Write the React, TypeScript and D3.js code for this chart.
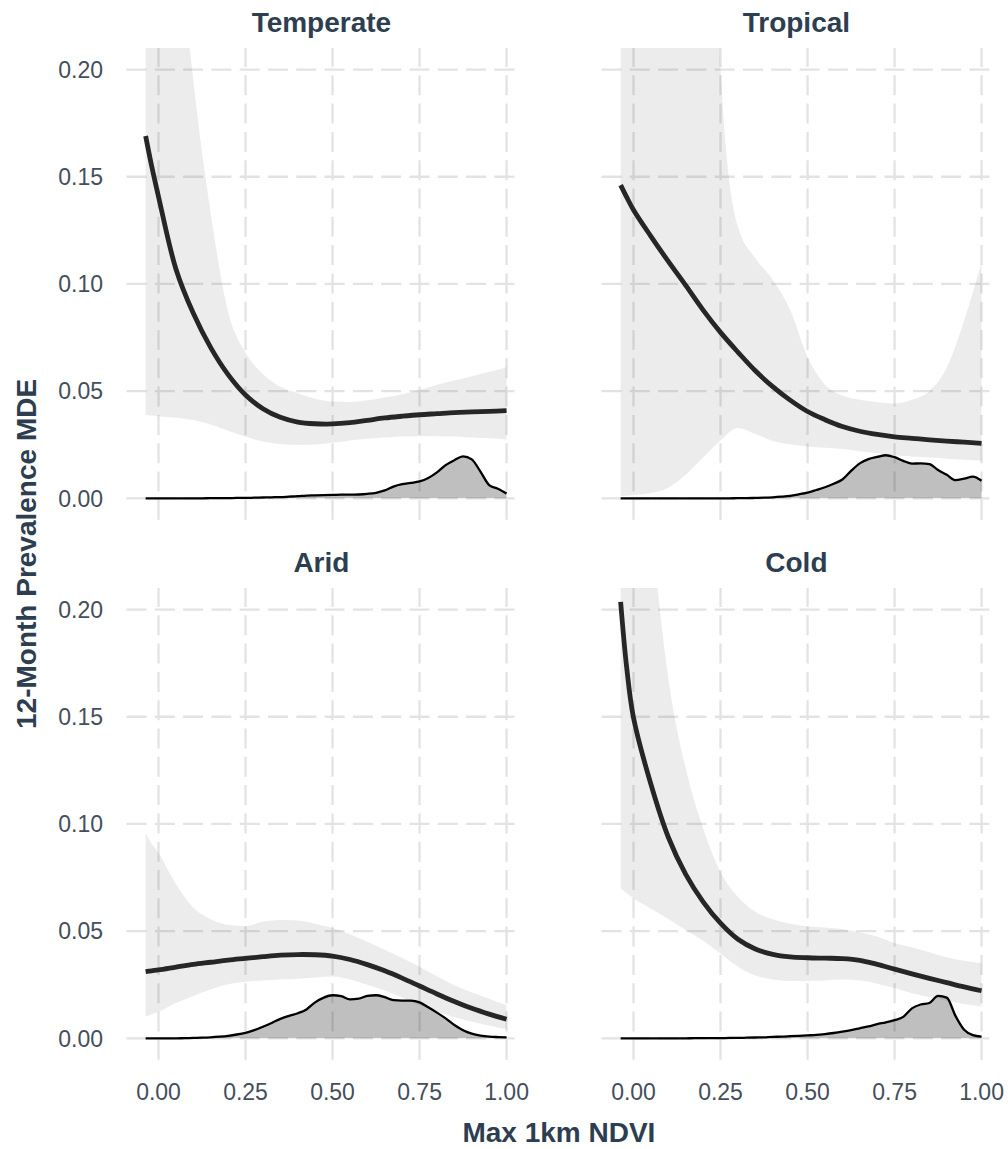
import React, { useEffect, useRef } from 'react';
import * as d3 from 'd3';

// x grid of the smoothed fits (Max 1km NDVI)
const fitX = [-0.037, -0.02, 0, 0.05, 0.1, 0.15, 0.2, 0.25, 0.3, 0.35, 0.4, 0.45, 0.5, 0.55, 0.6, 0.65, 0.7, 0.75, 0.8, 0.85, 0.9, 0.95, 1.0];

const temperateFit = [0.169, 0.1552, 0.1407, 0.107, 0.0863, 0.0703, 0.0577, 0.0482, 0.0418, 0.0378, 0.0356, 0.0348, 0.0347, 0.0353, 0.0364, 0.0375, 0.0383, 0.039, 0.0395, 0.04, 0.0403, 0.0406, 0.0409];
const temperateHi = [0.6, 0.5, 0.42, 0.28, 0.195, 0.133, 0.087, 0.068, 0.058, 0.052, 0.049, 0.0465, 0.0452, 0.045, 0.0458, 0.047, 0.0485, 0.0505, 0.053, 0.055, 0.057, 0.059, 0.0612];
const temperateLo = [0.0389, 0.0386, 0.0383, 0.0376, 0.0365, 0.0345, 0.0315, 0.0287, 0.0265, 0.0254, 0.0249, 0.0251, 0.0259, 0.027, 0.0278, 0.0284, 0.0288, 0.029, 0.029, 0.0288, 0.0284, 0.028, 0.0275];

const tropicalFit = [0.1461, 0.1406, 0.1345, 0.1222, 0.1105, 0.0993, 0.0878, 0.0774, 0.0682, 0.0595, 0.0521, 0.0458, 0.0405, 0.0367, 0.0335, 0.0313, 0.0298, 0.0287, 0.028, 0.0273, 0.0267, 0.0262, 0.0256];
const tropicalHi = [1.0, 1.0, 1.0, 0.9, 0.75, 0.6, 0.42, 0.2, 0.127, 0.112, 0.102, 0.088, 0.066, 0.053, 0.048, 0.046, 0.045, 0.0443, 0.046, 0.05, 0.061, 0.083, 0.11];
const tropicalLo = [0.001, 0.0012, 0.0015, 0.0025, 0.005, 0.011, 0.019, 0.027, 0.0328, 0.03, 0.0268, 0.0252, 0.0242, 0.0236, 0.023, 0.022, 0.021, 0.02, 0.0195, 0.019, 0.0185, 0.018, 0.0175];

const aridFit = [0.0311, 0.0315, 0.0319, 0.0332, 0.0345, 0.0355, 0.0365, 0.0373, 0.0381, 0.0388, 0.0391, 0.039, 0.0384, 0.0368, 0.0344, 0.0315, 0.0281, 0.0244, 0.0207, 0.0172, 0.014, 0.0113, 0.0089];
const aridHi = [0.0956, 0.091, 0.0863, 0.072, 0.061, 0.0555, 0.0529, 0.0524, 0.0545, 0.0552, 0.055, 0.0535, 0.0515, 0.0485, 0.045, 0.0413, 0.0375, 0.0334, 0.029, 0.0248, 0.0215, 0.0185, 0.0155];
const aridLo = [0.0101, 0.0112, 0.0124, 0.0165, 0.0198, 0.0228, 0.0252, 0.0264, 0.027, 0.0274, 0.0278, 0.0284, 0.0288, 0.0275, 0.025, 0.0223, 0.0191, 0.0155, 0.0125, 0.0098, 0.0078, 0.006, 0.0042];

const coldFit = [0.2036, 0.1735, 0.1495, 0.1185, 0.0938, 0.0765, 0.0637, 0.0537, 0.0462, 0.0417, 0.0392, 0.038, 0.0376, 0.0374, 0.0372, 0.0364, 0.0345, 0.0323, 0.0301, 0.028, 0.026, 0.024, 0.0222];
const coldHi = [0.6, 0.45, 0.33, 0.24, 0.168, 0.126, 0.098, 0.0775, 0.066, 0.059, 0.0555, 0.0535, 0.0523, 0.0517, 0.051, 0.0495, 0.0475, 0.0445, 0.0425, 0.0402, 0.0378, 0.0362, 0.035];
const coldLo = [0.07, 0.0678, 0.0653, 0.0605, 0.0557, 0.0505, 0.0455, 0.0396, 0.0334, 0.0293, 0.0275, 0.0268, 0.0268, 0.027, 0.0274, 0.027, 0.0255, 0.0235, 0.021, 0.0193, 0.0175, 0.016, 0.0148];

// x grid of the NDVI density strips
const densX = [-0.037, 0, 0.025, 0.05, 0.075, 0.1, 0.125, 0.15, 0.175, 0.2, 0.225, 0.25, 0.275, 0.3, 0.325, 0.35, 0.375, 0.4, 0.425, 0.45, 0.475, 0.5, 0.525, 0.55, 0.575, 0.6, 0.625, 0.65, 0.675, 0.7, 0.725, 0.75, 0.775, 0.8, 0.825, 0.85, 0.875, 0.9, 0.925, 0.95, 0.975, 1.0];

const temperateDens = [0, 0, 0, 0, 0, 0, 0, 0.0001, 0.0001, 0.0001, 0.0002, 0.0002, 0.0003, 0.0004, 0.0005, 0.0006, 0.0008, 0.001, 0.0013, 0.0014, 0.0015, 0.0016, 0.0017, 0.0017, 0.0018, 0.0021, 0.0026, 0.0037, 0.0055, 0.0066, 0.0072, 0.0079, 0.0095, 0.0121, 0.0155, 0.0178, 0.0196, 0.0182, 0.0125, 0.0062, 0.0045, 0.0023];
const tropicalDens = [0, 0, 0, 0, 0, 0, 0, 0, 0, 0, 0, 0, 0, 0.0001, 0.0001, 0.0002, 0.0003, 0.0005, 0.0008, 0.0012, 0.0019, 0.0027, 0.0039, 0.0052, 0.0068, 0.0088, 0.0128, 0.0163, 0.0183, 0.0193, 0.0201, 0.0192, 0.0175, 0.0162, 0.0163, 0.016, 0.0132, 0.011, 0.0085, 0.0092, 0.0101, 0.0082];
const aridDens = [0, 0, 0, 0, 0.0001, 0.0002, 0.0003, 0.0005, 0.0008, 0.0012, 0.0018, 0.0026, 0.0038, 0.0054, 0.0072, 0.0091, 0.0105, 0.0117, 0.0135, 0.0168, 0.019, 0.0201, 0.0197, 0.0182, 0.0185, 0.0198, 0.0201, 0.0192, 0.0178, 0.0176, 0.0176, 0.0168, 0.0145, 0.012, 0.0093, 0.0062, 0.0038, 0.0022, 0.0013, 0.0008, 0.0006, 0.0005];
const coldDens = [0, 0, 0, 0, 0, 0, 0, 0, 0.0001, 0.0001, 0.0001, 0.0001, 0.0002, 0.0002, 0.0003, 0.0004, 0.0005, 0.0007, 0.0008, 0.001, 0.0012, 0.0014, 0.0016, 0.002, 0.0025, 0.0031, 0.0038, 0.0047, 0.0056, 0.0066, 0.0075, 0.0085, 0.01, 0.014, 0.0158, 0.0165, 0.0198, 0.019, 0.0105, 0.004, 0.0015, 0.0008];

const xTicks = [0, 0.25, 0.5, 0.75, 1];
const xTickLabels = ['0.00', '0.25', '0.50', '0.75', '1.00'];
const yTicks = [0, 0.05, 0.1, 0.15, 0.2];
const yTickLabels = ['0.00', '0.05', '0.10', '0.15', '0.20'];

const panels = [
  { title: 'Temperate', col: 0, row: 0, fit: temperateFit, hi: temperateHi, lo: temperateLo, dens: temperateDens },
  { title: 'Tropical', col: 1, row: 0, fit: tropicalFit, hi: tropicalHi, lo: tropicalLo, dens: tropicalDens },
  { title: 'Arid', col: 0, row: 1, fit: aridFit, hi: aridHi, lo: aridLo, dens: aridDens },
  { title: 'Cold', col: 1, row: 1, fit: coldFit, hi: coldHi, lo: coldLo, dens: coldDens },
];

const FONT = '"Liberation Sans", Arial, sans-serif';
const TITLE_COL = '#2c3e50';
const TICK_COL = '#444e5c';

export default function App() {
  const ref = useRef(null);

  useEffect(() => {
    const width = 1008;
    const height = 1149;
    const panelW = 389.8;
    const panelH = 471.7;
    const lefts = [126.5, 601.5];
    const tops = [48.1, 588.1];

    const svg = d3.select(ref.current);
    svg.selectAll('*').remove();
    svg.attr('width', width).attr('height', height);

    const x = d3.scaleLinear().domain([-0.092, 1.028]).range([0, panelW]);
    const y = d3.scaleLinear().domain([-0.01, 0.21]).range([panelH, 0]);

    const band = d3
      .area()
      .x((d) => x(d[0]))
      .y0((d) => y(d[1]))
      .y1((d) => y(d[2]))
      .curve(d3.curveMonotoneX);
    const line = d3
      .line()
      .x((d) => x(d[0]))
      .y((d) => y(d[1]))
      .curve(d3.curveMonotoneX);
    const smooth = d3
      .line()
      .x((d) => x(d[0]))
      .y((d) => y(d[1]))
      .curve(d3.curveCatmullRom.alpha(0.5));
    const densArea = d3
      .area()
      .x((d) => x(d[0]))
      .y0(y(0))
      .y1((d) => y(d[1]))
      .curve(d3.curveMonotoneX);

    panels.forEach((p, i) => {
      const g = svg
        .append('g')
        .attr('transform', `translate(${lefts[p.col]},${tops[p.row]})`);

      g.append('clipPath')
        .attr('id', `clip${i}`)
        .append('rect')
        .attr('width', panelW)
        .attr('height', panelH);

      // dashed grid
      const grid = g.append('g').attr('stroke', '#e3e3e3').attr('stroke-width', 2.3).attr('stroke-dasharray', '20 8.3');
      yTicks.forEach((t) => {
        grid.append('line').attr('x1', 0).attr('x2', panelW).attr('y1', y(t)).attr('y2', y(t));
      });
      xTicks.forEach((t) => {
        grid.append('line').attr('x1', x(t)).attr('x2', x(t)).attr('y1', panelH).attr('y2', 0);
      });

      const body = g.append('g').attr('clip-path', `url(#clip${i})`);

      const ci = fitX.map((v, k) => [v, p.lo[k], p.hi[k]]);
      body.append('path').attr('d', band(ci)).attr('fill', '#000').attr('fill-opacity', 0.075);

      const dens = densX.map((v, k) => [v, p.dens[k]]);
      body.append('path').attr('d', densArea(dens)).attr('fill', '#000').attr('fill-opacity', 0.25);
      body
        .append('path')
        .attr('d', line(dens))
        .attr('fill', 'none')
        .attr('stroke', '#000')
        .attr('stroke-width', 2.3);

      const fit = fitX.map((v, k) => [v, p.fit[k]]);
      body
        .append('path')
        .attr('d', smooth(fit))
        .attr('fill', 'none')
        .attr('stroke', '#262626')
        .attr('stroke-width', 4.8);

      // strip title
      g.append('text')
        .attr('x', panelW / 2)
        .attr('y', -16)
        .attr('text-anchor', 'middle')
        .attr('font-family', FONT)
        .attr('font-weight', 'bold')
        .attr('font-size', 28)
        .attr('fill', TITLE_COL)
        .text(p.title);

      if (p.col === 0) {
        yTicks.forEach((t, k) => {
          g.append('text')
            .attr('x', -23.5)
            .attr('y', y(t))
            .attr('dy', '0.36em')
            .attr('text-anchor', 'end')
            .attr('font-family', FONT)
            .attr('font-size', 23)
            .attr('fill', TICK_COL)
            .text(yTickLabels[k]);
        });
      }
      if (p.row === 1) {
        xTicks.forEach((t, k) => {
          g.append('text')
            .attr('x', x(t))
            .attr('y', panelH + 40)
            .attr('text-anchor', 'middle')
            .attr('font-family', FONT)
            .attr('font-size', 23)
            .attr('fill', TICK_COL)
            .text(xTickLabels[k]);
        });
      }
    });

    svg
      .append('text')
      .attr('x', (lefts[0] + lefts[1] + panelW) / 2)
      .attr('y', 1142)
      .attr('text-anchor', 'middle')
      .attr('font-family', FONT)
      .attr('font-weight', 'bold')
      .attr('font-size', 28)
      .attr('fill', TITLE_COL)
      .text('Max 1km NDVI');

    svg
      .append('text')
      .attr('transform', `translate(36,${(tops[0] + tops[1] + panelH) / 2}) rotate(-90)`)
      .attr('text-anchor', 'middle')
      .attr('font-family', FONT)
      .attr('font-weight', 'bold')
      .attr('font-size', 28)
      .attr('fill', TITLE_COL)
      .text('12-Month Prevalence MDE');
  }, []);

  return (
    <div style={{ position: 'absolute', left: 0, top: 0, background: '#fff' }}>
      <svg ref={ref} style={{ display: 'block' }}></svg>
    </div>
  );
}
